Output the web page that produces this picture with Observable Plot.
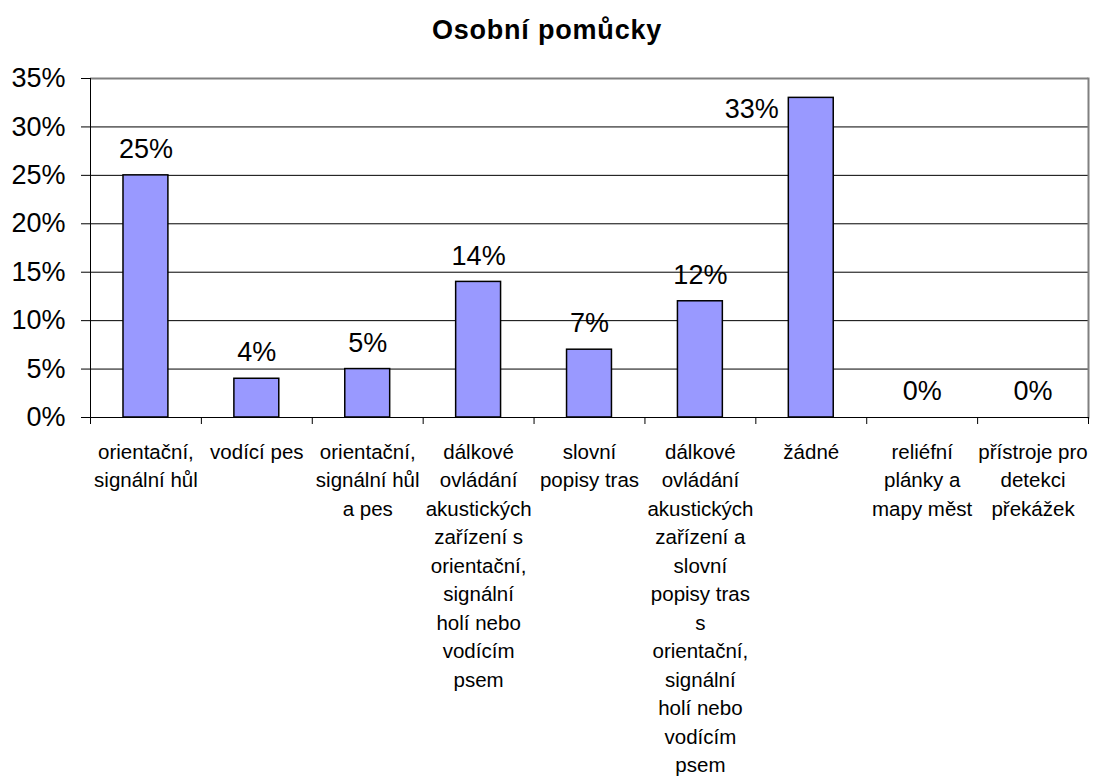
<!DOCTYPE html>
<html lang="cs">
<head>
<meta charset="utf-8">
<script src="https://cdn.jsdelivr.net/npm/d3@7"></script>
<script src="https://cdn.jsdelivr.net/npm/@observablehq/plot@0.6"></script>
<style>
  html, body { margin: 0; padding: 0; background: #fff; overflow: hidden; }
  #title {
    box-sizing: border-box;
    height: 56px;
    padding-top: 15px;
    width: 1094px;
    text-align: center;
    font-family: "Liberation Sans", Arial, sans-serif;
    font-weight: bold;
    font-size: 27px;
    line-height: 30px;
    letter-spacing: 0.8px;
    color: #000;
  }
</style>
</head>
<body>
<div id="title">Osobní pomůcky</div>
<div id="chart"></div>
<script>
// Category names (as in the survey)
const categories = [
  "orientační, signální hůl",
  "vodící pes",
  "orientační, signální hůl a pes",
  "dálkové ovládání akustických zařízení s orientační, signální holí nebo vodícím psem",
  "slovní popisy tras",
  "dálkové ovládání akustických zařízení a slovní popisy tras s orientační, signální holí nebo vodícím psem",
  "žádné",
  "reliéfní plánky a mapy měst",
  "přístroje pro detekci překážek"
];

// Share of respondents (fractions)
const values = [0.25, 0.04, 0.05, 0.14, 0.07, 0.12, 0.33, 0, 0];

// Wrapped axis labels, one line per row
const tickLabels = [
  "orientační,\nsignální hůl",
  "vodící pes",
  "orientační,\nsignální hůl\na pes",
  "dálkové\novládání\nakustických\nzařízení s\norientační,\nsignální\nholí nebo\nvodícím\npsem",
  "slovní\npopisy tras",
  "dálkové\novládání\nakustických\nzařízení a\nslovní\npopisy tras\ns\norientační,\nsignální\nholí nebo\nvodícím\npsem",
  "žádné",
  "reliéfní\nplánky a\nmapy měst",
  "přístroje pro\ndetekci\npřekážek"
];

const yTicks = [0, 0.05, 0.10, 0.15, 0.20, 0.25, 0.30, 0.35];

const data = categories.map((c, i) => ({category: c, value: values[i], label: tickLabels[i]}));
const labelOf = new Map(data.map(d => [d.category, d.label]));

const width = 1094, height = 720;
const marginLeft = 90, marginRight = 6, marginTop = 22, marginBottom = 359;
const step = (width - marginLeft - marginRight) / categories.length;
const paddingInner = 0.595;
const barHalf = step * (1 - paddingInner) / 2;
const pct = d3.format(".0%");
const fitsAbove = d => d.value <= 0.30;

const chart = Plot.plot({
  width, height, marginLeft, marginRight, marginTop, marginBottom,
  style: {fontFamily: "'Liberation Sans', Arial, sans-serif", color: "#000", background: "#fff"},
  x: {domain: categories, paddingInner, paddingOuter: paddingInner / 2, round: false, label: null},
  y: {domain: [0, 0.35], label: null},
  marks: [
    // horizontal gridlines
    Plot.ruleY(yTicks.slice(1, -1), {stroke: "#000", strokeWidth: 1}),
    // plot area border (top and right)
    Plot.ruleY([0.35], {stroke: "#808080", strokeWidth: 2}),
    Plot.frame({anchor: "right", stroke: "#808080", strokeWidth: 2}),
    // bars
    Plot.barY(data, {x: "category", y: "value", fill: "#9999ff", stroke: "#000", strokeWidth: 1.5}),
    // axis lines
    Plot.ruleY([0], {stroke: "#000", strokeWidth: 1}),
    Plot.frame({anchor: "left", stroke: "#000", strokeWidth: 1}),
    // category boundary ticks below the axis
    Plot.ruleX(data, {x: "category", y1: 0, y2: 0, insetBottom: -7, dx: -step / 2, stroke: "#000"}),
    Plot.ruleX(data.slice(-1), {x: "category", y1: 0, y2: 0, insetBottom: -7, dx: step / 2, stroke: "#000"}),
    // y axis
    Plot.axisY({ticks: yTicks, tickFormat: pct, tickSize: 9, tickPadding: 16, fontSize: 27, stroke: "#000", label: null}),
    // x axis labels
    Plot.axisX({tickSize: 0, tickPadding: 21, tickFormat: d => labelOf.get(d), fontSize: 20.5, lineHeight: 1.39, label: null}),
    // value labels
    Plot.text(data.filter(fitsAbove), {x: "category", y: "value", text: d => pct(d.value), dy: -26, fontSize: 27, fill: "#000"}),
    Plot.text(data.filter(d => !fitsAbove(d)), {x: "category", y: "value", text: d => pct(d.value), dy: 11, dx: -(barHalf + 10), textAnchor: "end", fontSize: 27, fill: "#000"})
  ]
});

document.getElementById("chart").append(chart);
</script>
</body>
</html>
